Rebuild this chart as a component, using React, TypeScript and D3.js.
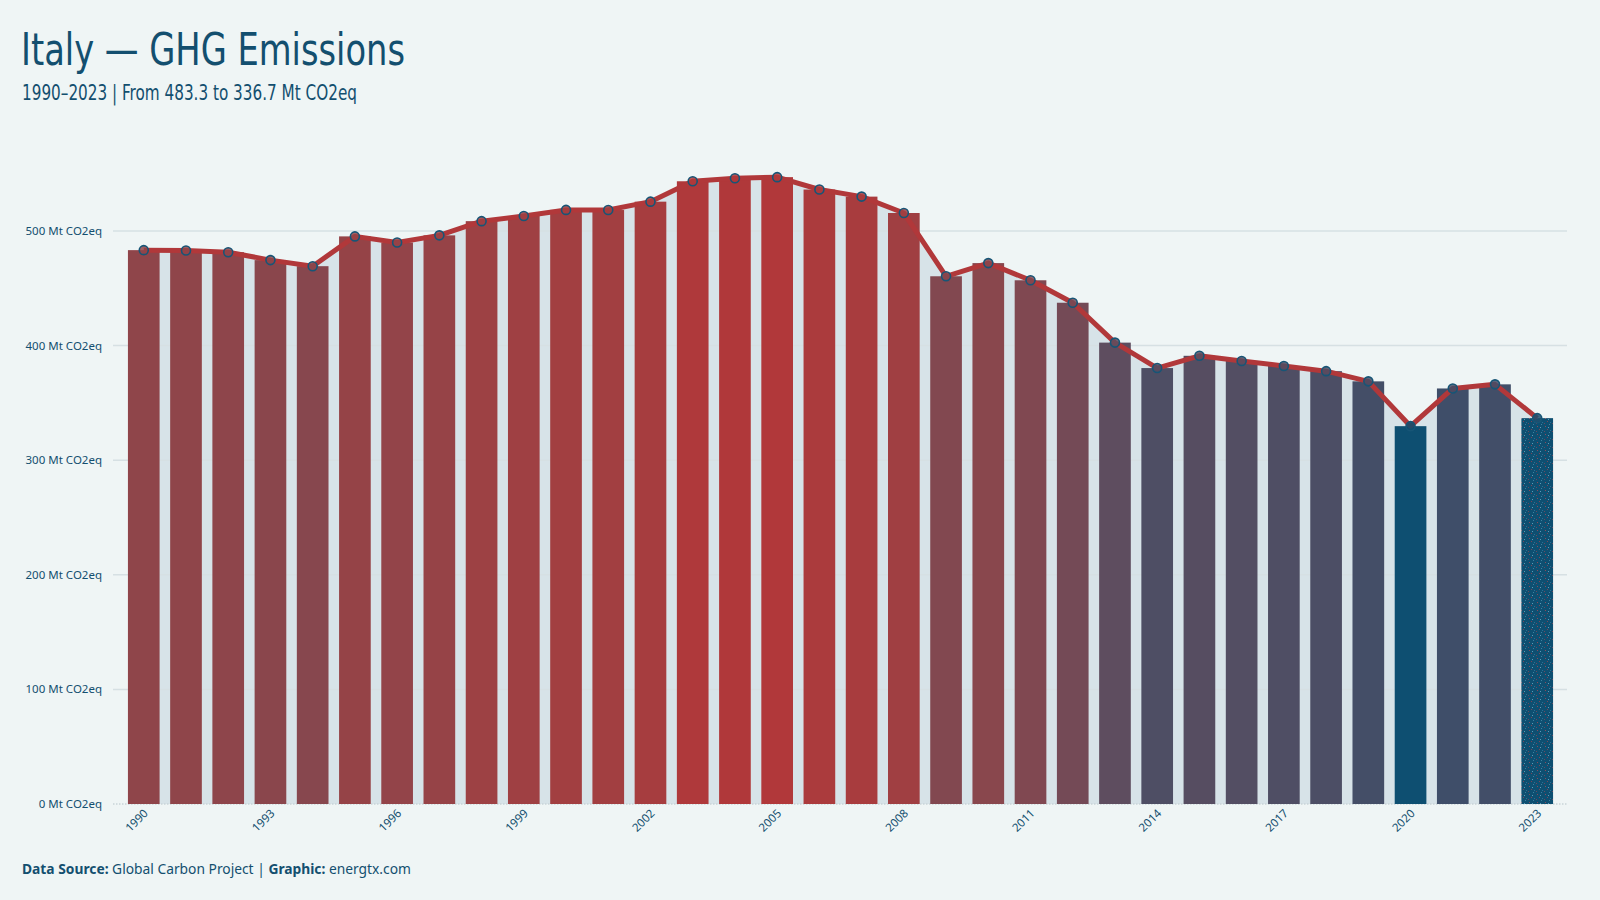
import React from "react";
import * as d3 from "d3";

const years = d3.range(1990, 2024);
const emissions = [
  483.3, 483.0, 481.5, 474.6, 469.3, 495.3, 489.9, 496.2, 508.6, 513.1,
  518.4, 518.3, 525.6, 543.4, 546.0, 547.0, 536.2, 530.0, 515.7, 460.5,
  472.0, 457.0, 437.4, 402.6, 380.4, 391.1, 386.6, 382.2, 377.7, 368.8,
  329.7, 362.6, 366.2, 336.7,
];
const yTicks = [0, 100, 200, 300, 400, 500];
const xTickYears = years.filter((y) => (y - 1990) % 3 === 0);

const W = 1600;
const H = 900;
const BG = "#eff5f5";
const NAVY = "#134f6f";
const RED = "#b1383a";
const BLUE = "#0e4f71";
const TITLE_FONT = "'DejaVu Sans Condensed', 'Noto Sans', sans-serif";

const App = () => {
  const data = years.map((year, i) => ({ year, value: emissions[i] }));

  const x = d3
    .scaleBand<number>()
    .domain(years)
    .range([114, 1567])
    .paddingInner(0.25)
    .paddingOuter(0.33);

  const y = d3.scaleLinear().domain([0, 500]).range([804, 231]);

  const [minV, maxV] = d3.extent(emissions) as [number, number];
  const color = d3
    .scaleLinear<string>()
    .domain([minV, maxV])
    .range([BLUE, RED])
    .interpolate(d3.interpolateLab);

  const cx = (d) => (x(d.year) as number) + x.bandwidth() / 2;

  const line = d3
    .line<{ year: number; value: number }>()
    .x(cx)
    .y((d) => y(d.value));

  const area = d3
    .area<{ year: number; value: number }>()
    .x(cx)
    .y0(y(0))
    .y1((d) => y(d.value));

  const last = data[data.length - 1];

  return (
    <svg
      width={W}
      height={H}
      style={{ position: "absolute", top: 0, left: 0, background: BG }}
    >
      <defs>
        <pattern id="grain" width="8" height="8" patternUnits="userSpaceOnUse">
          <rect width="8" height="8" fill={BLUE} />
          <rect x="1" y="2" width="1" height="1" fill="#8a4a5a" />
          <rect x="5" y="0" width="1" height="1" fill="#3d7fa0" />
          <rect x="3" y="5" width="1" height="1" fill="#7d4558" />
          <rect x="6" y="6" width="1" height="1" fill="#2f6f92" />
          <rect x="0" y="7" width="1" height="1" fill="#6a4a60" />
          <rect x="4" y="3" width="1" height="1" fill="#5b9bb8" />
        </pattern>
      </defs>

      <rect width={W} height={H} fill={BG} />

      {/* title block */}
      <text
        x={21}
        y={65}
        fontFamily={TITLE_FONT}
        fontSize={44}
        fill={NAVY}
        textLength={384}
        lengthAdjust="spacingAndGlyphs"
      >
        Italy — GHG Emissions
      </text>
      <text
        x={22}
        y={100}
        fontFamily={TITLE_FONT}
        fontSize={21}
        fill={NAVY}
        textLength={335}
        lengthAdjust="spacingAndGlyphs"
      >
        1990–2023 | From 483.3 to 336.7 Mt CO2eq
      </text>

      {/* area under the line */}
      <path d={area(data) as string} fill="#d7e3e8" />

      {/* grid */}
      {yTicks.map((t) => (
        <g key={t}>
          <line
            x1={113}
            x2={1567}
            y1={y(t)}
            y2={y(t)}
            stroke={t === 0 ? "#c9d4d8" : "#d6e0e3"}
            strokeWidth={1.5}
            strokeDasharray={t === 0 ? "1.5 1.5" : undefined}
          />
          <text
            x={102}
            y={y(t)}
            dy="0.35em"
            textAnchor="end"
            fontFamily="'Noto Sans', sans-serif"
            fontSize={11.5}
            fill={NAVY}
          >
            {t} Mt CO2eq
          </text>
        </g>
      ))}

      {/* bars */}
      {data.map((d) => (
        <rect
          key={d.year}
          x={x(d.year)}
          y={y(d.value)}
          width={x.bandwidth()}
          height={y(0) - y(d.value)}
          fill={d === last ? "url(#grain)" : color(d.value)}
        />
      ))}

      {/* line + points */}
      <path
        d={line(data) as string}
        fill="none"
        stroke={RED}
        strokeWidth={5}
        strokeLinejoin="round"
      />
      {data.map((d) => (
        <circle
          key={d.year}
          cx={cx(d)}
          cy={y(d.value)}
          r={4.5}
          fill={color(d.value)}
          fillOpacity={0.85}
          stroke="#175576"
          strokeWidth={1.6}
        />
      ))}

      {/* x labels */}
      {xTickYears.map((yr) => (
        <text
          key={yr}
          transform={`translate(${(x(yr) as number) + x.bandwidth() / 2 + 5},${814}) rotate(-45)`}
          textAnchor="end"
          fontFamily="'Noto Sans', sans-serif"
          fontSize={11.5}
          fill={NAVY}
        >
          {yr}
        </text>
      ))}

      {/* caption */}
      <text
        x={22}
        y={874}
        fontFamily="'Noto Sans', sans-serif"
        fontSize={13.8}
        fill={NAVY}
      >
        <tspan fontWeight="bold">Data Source:</tspan> Global Carbon Project |{" "}
        <tspan fontWeight="bold">Graphic:</tspan> energtx.com
      </text>
    </svg>
  );
};

export default App;
